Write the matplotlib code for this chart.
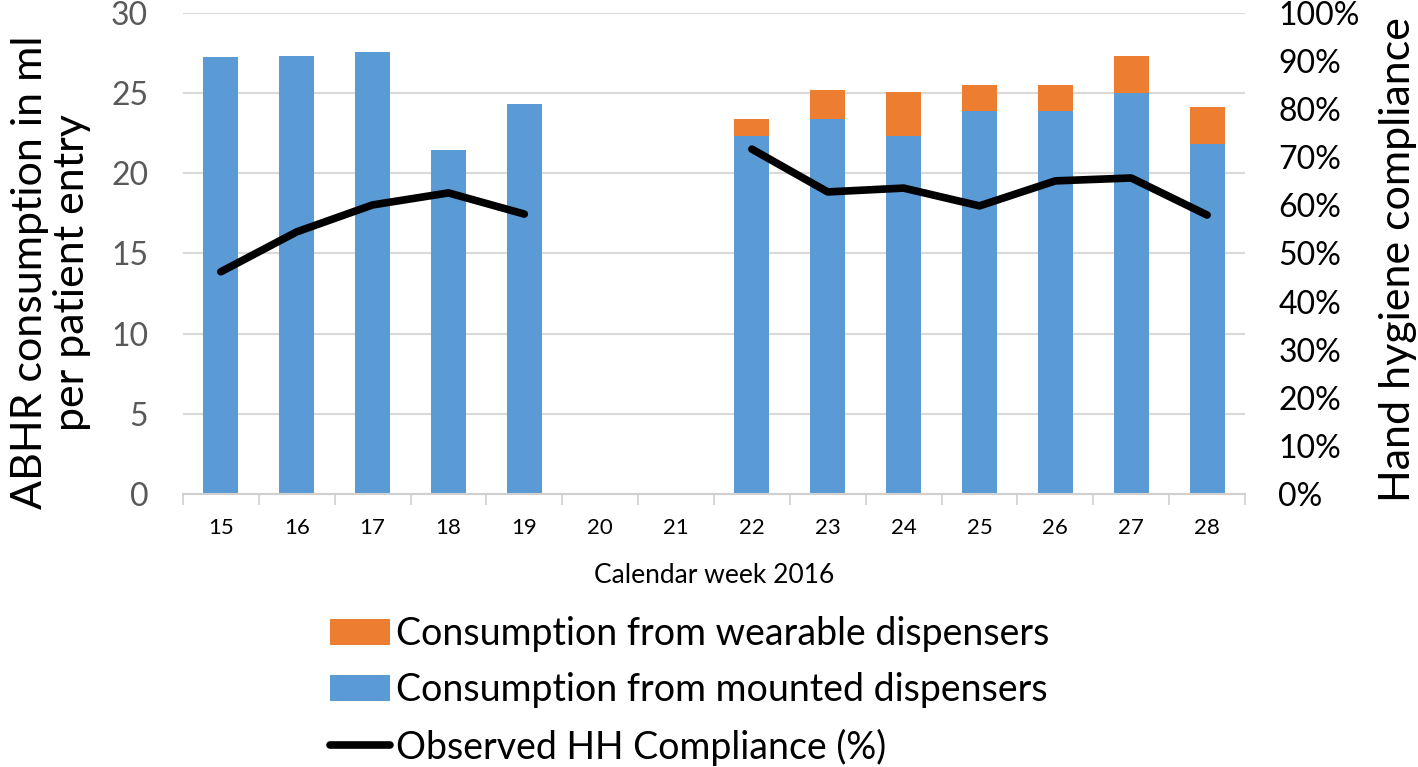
import numpy as np
import matplotlib.pyplot as plt

plt.rcParams['font.family'] = ['Lato', 'DejaVu Sans']

weeks = ['15', '16', '17', '18', '19', '20', '21', '22', '23', '24', '25', '26', '27', '28']
mounted = [27.25, 27.3, 27.6, 21.45, 24.3, 0, 0, 22.35, 23.4, 22.3, 23.9, 23.9, 25.0, 21.8]
wearable = [0, 0, 0, 0, 0, 0, 0, 1.05, 1.8, 2.8, 1.6, 1.6, 2.35, 2.35]
compliance = [46.2, 54.5, 60.1, 62.6, 58.2, np.nan, np.nan, 71.7, 62.8, 63.6, 59.9, 65.1, 65.7, 58.0]

blue = '#5b9bd5'
orange = '#ed7d31'

fig = plt.figure(figsize=(14.18, 7.67), dpi=100)
ax = fig.add_axes([0.129, 0.356, 0.749, 0.627])
x = np.arange(len(weeks))

ax.bar(x, mounted, width=0.46, color=blue, label='Consumption from mounted dispensers', zorder=2)
ax.bar(x, wearable, width=0.46, bottom=mounted, color=orange, label='Consumption from wearable dispensers', zorder=2)

ax.set_ylim(0, 30)
ax.set_yticks(range(0, 31, 5))
ax.set_xlim(-0.5, len(weeks) - 0.5)
ax.set_xticks(x)
ax.set_xticklabels(weeks, fontsize=16)
ax.set_xticks(np.arange(-0.5, len(weeks), 1), minor=True)
ax.tick_params(axis='x', which='major', length=0, pad=17)
ax.tick_params(axis='x', which='minor', length=8, color='#d0d0d0', width=1.2)
ax.tick_params(axis='y', length=0, labelsize=23, labelcolor='#595959', pad=25)
ax.grid(axis='y', color='#d9d9d9', linewidth=1.5, zorder=0)
ax.set_axisbelow(True)
for s in ['top', 'right', 'left']:
    ax.spines[s].set_visible(False)
ax.spines['bottom'].set_color('#d0d0d0')
ax.spines['bottom'].set_linewidth(1.5)
ax.set_xlabel('Calendar week 2016', fontsize=19, labelpad=18)

fig.text(0.036, 0.645, 'ABHR consumption in ml\nper patient entry', rotation=90,
         ha='center', va='center', multialignment='center', fontsize=31, linespacing=1.1)

ax2 = ax.twinx()
ax2.plot(x, compliance, color='black', linewidth=5.5, solid_capstyle='round',
         label='Observed HH Compliance (%)', zorder=3)
ax2.set_ylim(0, 100)
ax2.set_yticks(range(0, 101, 10))
ax2.set_yticklabels([f'{v}%' for v in range(0, 101, 10)])
ax2.tick_params(axis='y', length=0, labelsize=23, labelcolor='black', pad=24)
for s in ['top', 'right', 'left', 'bottom']:
    ax2.spines[s].set_visible(False)

fig.text(0.986, 0.345, 'Hand hygiene compliance', rotation=90,
         ha='center', va='bottom', fontsize=31)

h1, l1 = ax.get_legend_handles_labels()
h2, l2 = ax2.get_legend_handles_labels()
fig.legend([h1[1], h1[0], h2[0]], [l1[1], l1[0], l2[0]], loc='upper left',
           bbox_to_anchor=(0.233, 0.197), frameon=False, fontsize=27,
           borderpad=0, borderaxespad=0,
           handlelength=1.6, handletextpad=0.15, labelspacing=0.54)

fig.savefig('out.png', dpi=100)
